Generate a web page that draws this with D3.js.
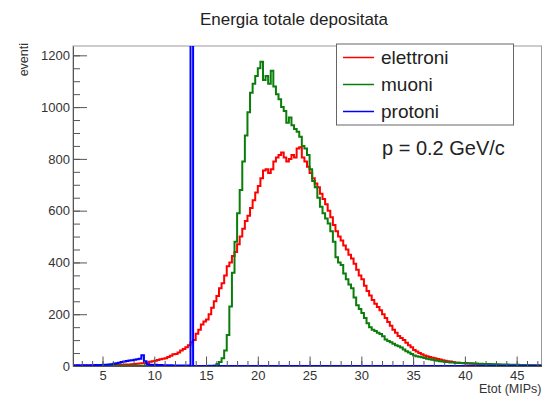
<!DOCTYPE html>
<html>
<head>
<meta charset="utf-8">
<script src="https://cdn.jsdelivr.net/npm/d3@7/dist/d3.min.js"></script>
<style>
  html, body { margin: 0; padding: 0; background: #fff; }
  svg { display: block; font-family: "Liberation Sans", Arial, Helvetica, sans-serif; }
</style>
</head>
<body>
<svg id="chart" width="544" height="397"></svg>
<script>
// ---- data (histograms, bin width 0.25 starting at 2.0) ----
const binStart = 2.0;
const binWidth = 0.25;

const elettroni = [
  1,1,2,1,   2,1,2,2,   2,3,2,3,   3,3,4,3,   4,4,5,5,   5,6,6,7,
  8,9,10,11,   12,14,16,18,   20,23,26,28,   30,35,40,45,   46,52,60,66,
  72,80,92,100,   125,140,160,172,   180,200,225,250,   270,300,320,350,
  385,400,425,440,   470,500,530,560,   580,610,640,670,   695,725,755,760,
  745,760,790,805,   815,825,805,790,   800,815,805,840,   845,805,790,770,
  745,725,705,690,   665,645,625,600,   575,545,520,500,   485,465,450,430,
  415,395,372,350,   335,310,290,272,   255,240,228,215,   200,185,170,155,
  140,128,116,108,   100,90,80,72,   62,56,50,45,   41,38,35,32,
  30,27,25,22,   20,18,17,15,   13,13,12,11,   10,10,9,9,   8,8,7,7,
  6,6,6,5,   5,5,4,4,   4,4,3,4,   3,3,3,3,   3,2,3,2,   2,2,1,2
];

const muoni = [
  0,0,0,0,   0,0,0,0,   0,0,0,0,   0,0,0,0,   0,0,0,0,   0,0,0,0,
  0,0,0,0,   0,0,0,0,   0,0,0,0,   0,0,0,0,   0,0,0,0,   0,0,0,0,
  0,0,0,0,   0,1,1,2,   8,15,30,60,
  120,230,360,480,   590,680,790,890,   980,1055,1090,1120,   1150,1175,1105,1120,
  1090,1140,1080,1050,   1030,1000,985,940,   960,930,915,905,   885,850,840,815,
  760,715,690,650,   615,590,570,550,   520,480,420,400,   390,357,335,315,
  300,265,235,220,   205,185,165,150,   140,135,128,124,   115,102,97,92,
  86,80,76,71,   64,57,52,46,   41,38,36,34,   31,28,26,24,
  22,20,18,17,   15,15,14,14,   13,13,12,12,   12,11,11,10,   10,9,9,8,
  8,8,7,7,   7,6,6,6,   6,5,5,5,   5,4,4,4,   4,3,3,3,   3,2,2,2
];

const protoni = [
  3,2,3,2,   3,3,2,3,   3,4,3,4,   5,5,6,7,   9,11,13,15,   17,19,21,22,
  24,26,28,42,   18,7,5,4,   5,4,4,3,   3,3,3,2,   2,2,2,2,   1,2,2000,0,
  0,0,0,0,   0,0,0,0,   0,0,0,0,   0,0,0,0,
  0,0,0,0,   0,0,0,0,   0,0,0,0,   0,0,0,0,
  0,0,0,0,   0,0,0,0,   0,0,0,0,   0,0,0,0,
  0,0,0,0,   0,0,0,0,   0,0,0,0,   0,0,0,0,
  0,0,0,0,   0,0,0,0,   0,0,0,0,   0,0,0,0,
  0,0,0,0,   0,0,0,0,   0,0,0,0,   0,0,0,0,
  0,0,0,0,   0,0,0,0,   0,0,0,0,   0,0,0,0,   0,0,0,0,
  0,0,0,0,   0,0,0,0,   0,0,0,0,   0,0,0,0,   0,0,0,0,   0,0,0,0
];

const seriesNames = ["elettroni", "muoni", "protoni"];
const seriesColors = ["#ff0000", "#0a7d0a", "#0000ff"];
const seriesData = [elettroni, muoni, protoni];

const xMajorTicks = [5, 10, 15, 20, 25, 30, 35, 40, 45];
const xMinorTicks = d3.range(3, 48, 1);
const yMajorTicks = [0, 200, 400, 600, 800, 1000, 1200];
const yMinorTicks = d3.range(0, 1236, 50);

const titleText = "Energia totale depositata";
const xTitle = "Etot (MIPs)";
const yTitle = "eventi";
const noteText = "p = 0.2 GeV/c";

// ---- layout ----
const svg = d3.select("#chart");
const frame = { left: 73, right: 541.5, top: 46, bottom: 366 };

const x = d3.scaleLinear().domain([2.15, 47.4]).range([frame.left, frame.right]);
const y = d3.scaleLinear().domain([0, 1236]).range([frame.bottom, frame.top]);

const axisColor = "#555";
const textColor = "#333";

// clip
svg.append("defs").append("clipPath").attr("id", "clip")
  .append("rect")
  .attr("x", frame.left).attr("y", frame.top)
  .attr("width", frame.right - frame.left)
  .attr("height", frame.bottom - frame.top);

// frame
svg.append("rect")
  .attr("x", frame.left).attr("y", frame.top)
  .attr("width", frame.right - frame.left)
  .attr("height", frame.bottom - frame.top)
  .attr("fill", "none").attr("stroke", "#999").attr("stroke-width", 1);

// histograms
const gHist = svg.append("g").attr("clip-path", "url(#clip)");
seriesData.forEach((vals, si) => {
  const pts = vals.map((v, i) => [binStart + i * binWidth, v]);
  pts.push([binStart + vals.length * binWidth, vals[vals.length - 1]]);
  const line = d3.line()
    .x(d => x(d[0]))
    .y(d => y(d[1]))
    .curve(d3.curveStepAfter);
  gHist.append("path")
    .attr("d", line(pts))
    .attr("fill", "none")
    .attr("stroke", seriesColors[si])
    .attr("stroke-width", 2);
});

// x axis
const xAxisMinor = d3.axisBottom(x).tickValues(xMinorTicks).tickFormat("")
  .tickSizeInner(-5).tickSizeOuter(0);
const xAxisMajor = d3.axisBottom(x).tickValues(xMajorTicks).tickFormat(d3.format("d"))
  .tickSizeInner(-9.5).tickSizeOuter(0).tickPadding(5);

const gxm = svg.append("g").attr("transform", `translate(0,${frame.bottom})`).call(xAxisMinor);
gxm.select(".domain").remove();
const gx = svg.append("g").attr("transform", `translate(0,${frame.bottom})`).call(xAxisMajor);

// y axis
const yAxisMinor = d3.axisLeft(y).tickValues(yMinorTicks).tickFormat("")
  .tickSizeInner(-7).tickSizeOuter(0);
const yAxisMajor = d3.axisLeft(y).tickValues(yMajorTicks).tickFormat(d3.format("d"))
  .tickSizeInner(-14).tickSizeOuter(0).tickPadding(3);

const gym = svg.append("g").attr("transform", `translate(${frame.left},0)`).call(yAxisMinor);
gym.select(".domain").remove();
const gy = svg.append("g").attr("transform", `translate(${frame.left},0)`).call(yAxisMajor);

[gx, gy, gxm, gym].forEach(g => {
  g.selectAll("line").attr("stroke", axisColor);
  g.selectAll(".domain").attr("stroke", axisColor);
  g.selectAll("text").attr("fill", textColor).attr("font-size", 13)
    .attr("font-family", "Liberation Sans, Arial, sans-serif");
});

// titles
svg.append("text")
  .attr("x", 294).attr("y", 25)
  .attr("text-anchor", "middle")
  .attr("font-size", 17).attr("fill", "#222")
  .text(titleText);

svg.append("text")
  .attr("x", frame.right).attr("y", 393)
  .attr("text-anchor", "end")
  .attr("font-size", 12.5).attr("fill", textColor)
  .text(xTitle);

svg.append("text")
  .attr("transform", `translate(28,43) rotate(-90)`)
  .attr("text-anchor", "end")
  .attr("font-size", 12.5).attr("fill", textColor)
  .text(yTitle);

// legend
const legend = svg.append("g");
legend.append("rect")
  .attr("x", 336.5).attr("y", 44)
  .attr("width", 177).attr("height", 81)
  .attr("fill", "#fff").attr("stroke", "#666").attr("stroke-width", 1);
const rowY = [57.5, 84.5, 111.5];
seriesNames.forEach((name, i) => {
  legend.append("line")
    .attr("x1", 343).attr("x2", 374)
    .attr("y1", rowY[i]).attr("y2", rowY[i])
    .attr("stroke", seriesColors[i]).attr("stroke-width", 1.5);
  legend.append("text")
    .attr("x", 381).attr("y", rowY[i] + 6)
    .attr("font-size", 19).attr("fill", "#222")
    .text(name);
});

svg.append("text")
  .attr("x", 382).attr("y", 155)
  .attr("font-size", 20).attr("fill", "#222")
  .text(noteText);
</script>
</body>
</html>
